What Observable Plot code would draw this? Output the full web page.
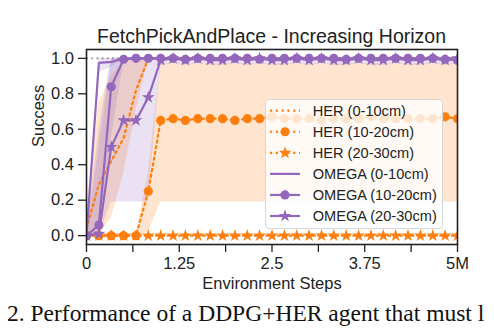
<!DOCTYPE html>
<html><head><meta charset="utf-8">
<script src="https://cdn.jsdelivr.net/npm/d3@7"></script>
<script src="https://cdn.jsdelivr.net/npm/@observablehq/plot@0.6"></script>
<style>
body{margin:0;background:#fff;}
#wrap{position:relative;width:494px;height:328px;overflow:hidden;font-family:"Liberation Sans",Arial,sans-serif;color:#222;background:#fff}
#chart{position:absolute;left:0;top:0}
#title{position:absolute;left:86px;width:371px;top:26.5px;text-align:center;font-size:19.5px;line-height:1;white-space:nowrap}
#legend{position:absolute;left:265px;top:99px;width:178px;height:130px;box-sizing:border-box;background:rgba(255,255,255,0.8);border:1px solid #d8d8d8;border-radius:4px}
#legend svg{position:absolute;left:-1px;top:-1px;overflow:visible}
#caption{position:absolute;left:7px;top:302px;font-family:"Liberation Serif","Times New Roman",serif;font-size:23.5px;line-height:1;white-space:nowrap;color:#111}
</style></head>
<body>
<div id="wrap">
  <div id="chart"></div>
  <div id="title"></div>
  <div id="legend"></div>
  <div id="caption"></div>
</div>
<script>
// ---- data (Environment steps in millions) ----
const steps = [0, 0.167, 0.333, 0.5, 0.667, 0.833, 1.0, 1.167, 1.333, 1.5, 1.667, 1.833, 2.0, 2.167, 2.333, 2.5, 2.667, 2.833, 3.0, 3.167, 3.333, 3.5, 3.667, 3.833, 4.0, 4.167, 4.333, 4.5, 4.667, 4.833, 5.0];

const herNear   = [0.04, 0.29, 0.42, 0.55, 0.82, 1.0, 1.0, 1.0, 1.0, 1.0, 1.0, 1.0, 1.0, 1.0, 1.0, 1.0, 1.0, 1.0, 1.0, 1.0, 1.0, 1.0, 1.0, 1.0, 1.0, 1.0, 1.0, 1.0, 1.0, 1.0, 1.0];
const herNearLo = [0.0, 0.0, 0.10, 0.35, 0.70, 1.0, 1.0, 1.0, 1.0, 1.0, 1.0, 1.0, 1.0, 1.0, 1.0, 1.0, 1.0, 1.0, 1.0, 1.0, 1.0, 1.0, 1.0, 1.0, 1.0, 1.0, 1.0, 1.0, 1.0, 1.0, 1.0];
const herNearHi = [0.15, 0.75, 0.90, 0.98, 1.0, 1.0, 1.0, 1.0, 1.0, 1.0, 1.0, 1.0, 1.0, 1.0, 1.0, 1.0, 1.0, 1.0, 1.0, 1.0, 1.0, 1.0, 1.0, 1.0, 1.0, 1.0, 1.0, 1.0, 1.0, 1.0, 1.0];

const herMid    = [0.0, 0.0, 0.0, 0.0, 0.0, 0.25, 0.65, 0.66, 0.65, 0.66, 0.66, 0.66, 0.65, 0.66, 0.66, 0.67, 0.66, 0.66, 0.66, 0.65, 0.66, 0.66, 0.66, 0.67, 0.66, 0.66, 0.66, 0.66, 0.66, 0.67, 0.66];
const herMidLo  = [0.0, 0.0, 0.0, 0.0, 0.0, 0.02, 0.19, 0.19, 0.19, 0.19, 0.19, 0.19, 0.19, 0.19, 0.19, 0.19, 0.19, 0.19, 0.19, 0.19, 0.19, 0.19, 0.19, 0.19, 0.19, 0.19, 0.19, 0.19, 0.19, 0.19, 0.19];
const herMidHi  = [0.0, 0.0, 0.0, 0.0, 0.0, 0.35, 0.97, 0.97, 0.97, 0.97, 0.97, 0.97, 0.97, 0.97, 0.97, 0.97, 0.97, 0.97, 0.97, 0.97, 0.97, 0.97, 0.97, 0.97, 0.97, 0.97, 0.97, 0.97, 0.97, 0.97, 0.97];

const herFar    = [0.0, 0.0, 0.0, 0.0, 0.0, 0.0, 0.0, 0.0, 0.0, 0.0, 0.0, 0.0, 0.0, 0.0, 0.0, 0.0, 0.0, 0.0, 0.0, 0.0, 0.0, 0.0, 0.0, 0.0, 0.0, 0.0, 0.0, 0.0, 0.0, 0.0, 0.0];

const omegaNear   = [0.0, 0.975, 0.98, 1.0, 1.0, 1.0, 1.0, 1.0, 1.0, 1.0, 1.0, 1.0, 1.0, 1.0, 1.0, 1.0, 1.0, 1.0, 1.0, 1.0, 1.0, 1.0, 1.0, 1.0, 1.0, 1.0, 1.0, 1.0, 1.0, 1.0, 1.0];
const omegaNearLo = [0.0, 0.92, 0.95, 1.0, 1.0, 1.0, 1.0, 1.0, 1.0, 1.0, 1.0, 1.0, 1.0, 1.0, 1.0, 1.0, 1.0, 1.0, 1.0, 1.0, 1.0, 1.0, 1.0, 1.0, 1.0, 1.0, 1.0, 1.0, 1.0, 1.0, 1.0];
const omegaNearHi = [0.0, 1.0, 1.0, 1.0, 1.0, 1.0, 1.0, 1.0, 1.0, 1.0, 1.0, 1.0, 1.0, 1.0, 1.0, 1.0, 1.0, 1.0, 1.0, 1.0, 1.0, 1.0, 1.0, 1.0, 1.0, 1.0, 1.0, 1.0, 1.0, 1.0, 1.0];

const omegaMid   = [0.0, 0.06, 0.84, 0.995, 1.0, 1.0, 1.0, 1.0, 0.995, 1.0, 1.0, 1.0, 1.0, 1.0, 0.995, 1.0, 1.0, 1.0, 1.0, 1.0, 1.0, 0.995, 1.0, 1.0, 1.0, 1.0, 1.0, 1.0, 1.0, 0.995, 0.99];
const omegaMidLo = [0.0, 0.0, 0.55, 0.98, 0.99, 0.99, 0.99, 0.99, 0.98, 0.99, 0.99, 0.99, 0.99, 0.99, 0.98, 0.99, 0.99, 0.99, 0.99, 0.99, 0.99, 0.98, 0.99, 0.99, 0.99, 0.99, 0.99, 0.99, 0.99, 0.98, 0.98];
const omegaMidHi = [0.0, 0.6, 1.0, 1.0, 1.0, 1.0, 1.0, 1.0, 1.0, 1.0, 1.0, 1.0, 1.0, 1.0, 1.0, 1.0, 1.0, 1.0, 1.0, 1.0, 1.0, 1.0, 1.0, 1.0, 1.0, 1.0, 1.0, 1.0, 1.0, 1.0, 1.0];

const omegaFar   = [0.0, 0.01, 0.50, 0.65, 0.65, 0.78, 0.99, 1.0, 0.99, 1.0, 0.99, 0.99, 1.0, 0.99, 1.0, 0.99, 0.99, 1.0, 0.99, 1.0, 0.99, 0.99, 1.0, 0.99, 0.99, 1.0, 0.99, 0.99, 1.0, 0.99, 1.0];
const omegaFarLo = [0.0, 0.0, 0.19, 0.19, 0.19, 0.19, 0.96, 0.97, 0.96, 0.97, 0.96, 0.96, 0.97, 0.96, 0.97, 0.96, 0.96, 0.97, 0.96, 0.97, 0.96, 0.96, 0.97, 0.96, 0.96, 0.97, 0.96, 0.96, 0.97, 0.96, 0.97];
const omegaFarHi = [0.0, 0.5, 0.98, 1.0, 1.0, 1.0, 1.0, 1.0, 1.0, 1.0, 1.0, 1.0, 1.0, 1.0, 1.0, 1.0, 1.0, 1.0, 1.0, 1.0, 1.0, 1.0, 1.0, 1.0, 1.0, 1.0, 1.0, 1.0, 1.0, 1.0, 1.0];

const seriesLabels = ["HER (0-10cm)", "HER (10-20cm)", "HER (20-30cm)", "OMEGA (0-10cm)", "OMEGA (10-20cm)", "OMEGA (20-30cm)"];
const xTicks = [0, 0.625, 1.25, 1.875, 2.5, 3.125, 3.75, 4.375, 5];
const xTickLabels = ["0", "", "1.25", "", "2.5", "", "3.75", "", "5M"];
const yTicks = [0, 0.2, 0.4, 0.6, 0.8, 1.0];
const yTickLabels = ["0.0", "0.2", "0.4", "0.6", "0.8", "1.0"];
const titleText = "FetchPickAndPlace - Increasing Horizon";
const xLabel = "Environment Steps";
const yLabel = "Success";
const captionText = "2. Performance of a DDPG+HER agent that must l";

// ---- styling ----
const ORANGE = "#ff7f0e", PURPLE = "#9467bd";
const LW = 2.2, DOT = "2.2,3.6";
const R_CIRCLE = 4.6, R_STAR = 4.0;

const rows = (y, lo, hi) => steps.map((x, i) => ({x, y: y[i], lo: lo ? lo[i] : 0, hi: hi ? hi[i] : 0}));
const dHerNear = rows(herNear, herNearLo, herNearHi);
const dHerMid = rows(herMid, herMidLo, herMidHi);
const dHerFar = rows(herFar);
const dOmNear = rows(omegaNear, omegaNearLo, omegaNearHi);
const dOmMid = rows(omegaMid, omegaMidLo, omegaMidHi);
const dOmFar = rows(omegaFar, omegaFarLo, omegaFarHi);

const xFmt = new Map(xTicks.map((t, i) => [t, xTickLabels[i]]));
const yFmt = new Map(yTicks.map((t, i) => [t, yTickLabels[i]]));

const band = (d, color) => Plot.areaY(d, {x: "x", y1: "lo", y2: "hi", fill: color, fillOpacity: 0.2, clip: true});
const line = (d, color, dotted) => Plot.line(d, {x: "x", y: "y", stroke: color, strokeWidth: LW, strokeDasharray: dotted ? DOT : null, clip: true});
const marks = (d, color, symbol, r) => Plot.dot(d, {x: "x", y: "y", symbol, r, fill: color, stroke: "none", clip: true});

const chart = Plot.plot({
  width: 494, height: 300,
  marginLeft: 86, marginRight: 37, marginTop: 49, marginBottom: 56,
  x: {domain: [0, 5]},
  y: {domain: [-0.05, 1.05]},
  style: {fontFamily: '"Liberation Sans", Arial, sans-serif', fontSize: "16.5px", color: "#222", background: "transparent", overflow: "visible"},
  marks: [
    Plot.ruleY([1], {stroke: "#9a9a9a", strokeWidth: 1.6, strokeDasharray: "2,3.2"}),
    band(dHerNear, ORANGE),
    band(dHerMid, ORANGE),
    band(dOmNear, PURPLE),
    band(dOmMid, PURPLE),
    band(dOmFar, PURPLE),
    line(dHerNear, ORANGE, true),
    line(dHerMid, ORANGE, true),
    marks(dHerMid, ORANGE, "circle", R_CIRCLE),
    line(dHerFar, ORANGE, true),
    marks(dHerFar, ORANGE, "star", R_STAR),
    line(dOmNear, PURPLE, false),
    line(dOmMid, PURPLE, false),
    marks(dOmMid, PURPLE, "circle", R_CIRCLE),
    line(dOmFar, PURPLE, false),
    marks(dOmFar, PURPLE, "star", R_STAR),
    Plot.frame({stroke: "#222", strokeWidth: 1.6}),
    Plot.axisX({ticks: xTicks, tickFormat: d => xFmt.get(d), tickSize: 8, tickPadding: 5, strokeWidth: 1.3, fontSize: 16.5, label: null}),
    Plot.axisY({ticks: yTicks, tickFormat: d => yFmt.get(d), tickSize: 8, tickPadding: 4.5, strokeWidth: 1.3, fontSize: 16.5, label: null}),
    Plot.text([xLabel], {frameAnchor: "bottom", dy: 44, lineAnchor: "bottom", fontSize: 16.5, fill: "#222"}),
    Plot.text([yLabel], {frameAnchor: "left", dx: -43, rotate: -90, lineAnchor: "bottom", fontSize: 16.5, fill: "#222"})
  ]
});
document.getElementById("chart").appendChild(chart);
document.getElementById("title").textContent = titleText;
document.getElementById("caption").textContent = captionText;

// ---- legend ----
const legendSpec = [
  {color: ORANGE, dotted: true, symbol: null},
  {color: ORANGE, dotted: true, symbol: "circle"},
  {color: ORANGE, dotted: true, symbol: "star"},
  {color: PURPLE, dotted: false, symbol: null},
  {color: PURPLE, dotted: false, symbol: "circle"},
  {color: PURPLE, dotted: false, symbol: "star"}
];
const lsvg = d3.create("svg").attr("width", 178).attr("height", 130);
legendSpec.forEach((s, i) => {
  const cy = 11.7 + i * 21.06;
  const g = lsvg.append("g").attr("transform", `translate(0,${cy})`);
  g.append("line").attr("x1", 5).attr("x2", 35).attr("y1", 0).attr("y2", 0)
    .attr("stroke", s.color).attr("stroke-width", LW)
    .attr("stroke-dasharray", s.dotted ? DOT : null);
  if (s.symbol) {
    const r = s.symbol === "circle" ? R_CIRCLE : R_STAR;
    const sym = s.symbol === "circle" ? d3.symbolCircle : d3.symbolStar;
    g.append("path").attr("transform", "translate(20,0)")
      .attr("d", d3.symbol(sym, Math.PI * r * r)()).attr("fill", s.color);
  }
  g.append("text").attr("x", 47.7).attr("y", 5.3)
    .attr("font-family", '"Liberation Sans", Arial, sans-serif')
    .attr("font-size", 14.6).attr("fill", "#222").text(seriesLabels[i]);
});
document.getElementById("legend").appendChild(lsvg.node());
</script>
</body></html>
